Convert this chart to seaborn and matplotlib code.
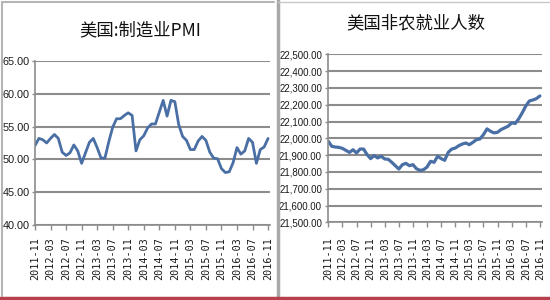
import matplotlib
matplotlib.use("Agg")
import matplotlib.pyplot as plt
from matplotlib import font_manager
from matplotlib.lines import Line2D
from matplotlib.ticker import FuncFormatter, FixedLocator
import seaborn as sns
import pandas as pd

# ---------------- data ----------------
months = [p.strftime("%Y-%m") for p in pd.period_range("2011-11", periods=61, freq="M")]
tick_labels = months[::4]

pmi_title = "美国:制造业PMI"
pmi_values = [52.1, 53.2, 53.0, 52.5, 53.2, 53.8, 53.2, 51.1, 50.6, 51.0,
              52.2, 51.3, 49.4, 51.0, 52.6, 53.2, 51.8, 50.2, 50.2, 52.7,
              54.9, 56.2, 56.2, 56.7, 57.1, 56.7, 51.3, 53.0, 53.6, 54.8,
              55.4, 55.4, 57.2, 59.0, 56.6, 59.0, 58.8, 55.3, 53.5, 52.9,
              51.5, 51.5, 52.8, 53.5, 52.9, 51.1, 50.2, 50.1, 48.6, 48.0,
              48.1, 49.5, 51.8, 50.8, 51.3, 53.2, 52.6, 49.4, 51.5, 51.9,
              53.2]

nfp_title = "美国非农就业人数"
nfp_values = [21982, 21952, 21948, 21946, 21940, 21928, 21916, 21932, 21913, 21936,
              21936, 21903, 21879, 21897, 21883, 21893, 21877, 21875, 21857, 21837,
              21817, 21843, 21851, 21837, 21843, 21819, 21809, 21813, 21829, 21863,
              21857, 21893, 21879, 21869, 21916, 21936, 21942, 21956, 21966, 21972,
              21962, 21976, 21992, 21996, 22022, 22056, 22042, 22032, 22036, 22052,
              22062, 22072, 22092, 22088, 22116, 22152, 22192, 22222, 22228, 22236,
              22252]

pmi_yticks = [40, 45, 50, 55, 60, 65]
nfp_yticks = [21500, 21600, 21700, 21800, 21900, 22000, 22100, 22200, 22300, 22400, 22500]

# ---------------- style ----------------
sns.set_theme(style="white")
names = {f.name for f in font_manager.fontManager.ttflist}
narrow = "Liberation Sans Narrow" if "Liberation Sans Narrow" in names else "Liberation Sans"
plt.rcParams["font.family"] = ["Noto Sans CJK SC", "DejaVu Sans"]

line_color = "#4a6fa5"
grid_color = "#8c8c8c"
axis_color = "#8c8c8c"
text_color = "#1a1a1a"

W, H = 550, 300
fig = plt.figure(figsize=(5.5, 3), dpi=100)
fig.patch.set_facecolor("white")

def box(l, t, r, b):
    return [l / W, 1 - b / H, (r - l) / W, (b - t) / H]

ax1 = fig.add_axes(box(35, 61, 270, 225))
ax2 = fig.add_axes(box(327.5, 54.3, 542, 222.3))

df1 = pd.DataFrame({"idx": range(len(months)), "val": pmi_values})
df2 = pd.DataFrame({"idx": range(len(months)), "val": nfp_values})

sns.lineplot(data=df1, x="idx", y="val", ax=ax1, color=line_color, linewidth=2.0)
sns.lineplot(data=df2, x="idx", y="val", ax=ax2, color=line_color, linewidth=2.3)

ax1.set_xlim(0, 60.5)
ax1.set_ylim(40, 65)
ax2.set_xlim(-0.23, 60.6)
ax2.set_ylim(21500, 22500)

tick_pos = list(range(0, len(months), 4))

for ax, yt, fmt, ysize, xpad in [
    (ax1, pmi_yticks, lambda v, p: f"{v:.2f}", 7.8, 5.5),
    (ax2, nfp_yticks, lambda v, p: f"{v:,.2f}", 7.0, 7.5),
]:
    ax.set_xlabel("")
    ax.set_ylabel("")
    ax.set_facecolor("white")
    ax.yaxis.set_major_locator(FixedLocator(yt))
    ax.yaxis.set_major_formatter(FuncFormatter(fmt))
    ax.set_xticks(tick_pos)
    ax.set_xticklabels(tick_labels, rotation=90, family="DejaVu Sans Mono",
                       fontsize=7.3, color=text_color, va="top", ha="center")
    for lab in ax.get_yticklabels():
        lab.set_family(narrow)
        lab.set_fontsize(ysize)
        lab.set_color(text_color)
    ax.grid(axis="y", color=grid_color, linewidth=1.5)
    ax.grid(axis="x", visible=False)
    ax.set_axisbelow(True)
    for s in ["top", "right"]:
        ax.spines[s].set_visible(False)
    for s in ["left", "bottom"]:
        ax.spines[s].set_color(axis_color)
        ax.spines[s].set_linewidth(1.2)
    ax.tick_params(axis="x", length=3.5, width=1, color=axis_color, pad=xpad, bottom=True)
    ax.tick_params(axis="y", length=2.5, width=1, color=axis_color, pad=1.5, left=True)

fig.text(140 / W, 1 - 30 / H, pmi_title, ha="center", va="center",
         fontsize=12.5, fontweight="medium", color="#111111")
fig.text(416 / W, 1 - 23 / H, nfp_title, ha="center", va="center",
         fontsize=12.5, fontweight="medium", color="#111111")

# panel frames
def fline(x0, y0, x1, y1, color, lw):
    fig.add_artist(Line2D([x0 / W, x1 / W], [1 - y0 / H, 1 - y1 / H],
                          transform=fig.transFigure, color=color, linewidth=lw))

fline(1.5, 1.5, 1.5, 296, "#b5b5b5", 1.5)
fline(1.5, 1.5, 274, 1.5, "#b5b5b5", 1.5)
fline(278, 0, 278, 296, "#a8a8a8", 2.5)
fline(278, 1.5, 550, 1.5, "#c8c8c8", 1.0)
fline(0, 298, 550, 298, "#b8404e", 2.5)

fig.savefig("out.png", dpi=100)
